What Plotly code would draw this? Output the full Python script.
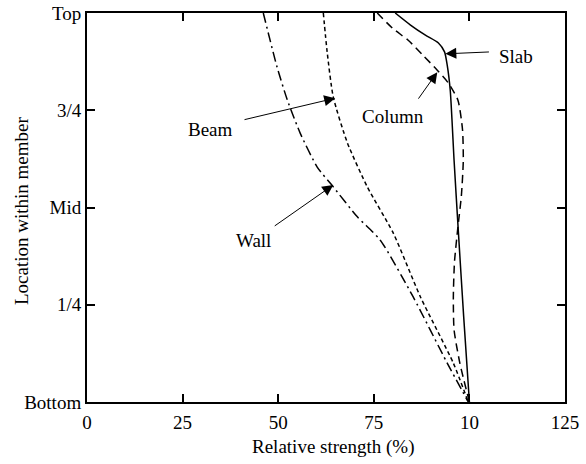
import plotly.graph_objects as go

# Data (relative strength %, location 0=Bottom .. 1=Top)
slab_x = [80.6, 84.6, 88.5, 91.9, 93.5, 94.2, 95.0, 96.0, 97.1, 98.5, 100.0]
slab_y = [1.0, 0.969, 0.943, 0.923, 0.90, 0.866, 0.80, 0.62, 0.44, 0.22, 0.0]

col_x = [75.9, 80.0, 84.0, 88.0, 91.6, 94.5, 97.0, 98.2, 98.4, 97.9, 97.0, 96.1, 95.8, 96.0, 97.5, 100.0]
col_y = [1.0, 0.96, 0.93, 0.89, 0.853, 0.82, 0.776, 0.70, 0.62, 0.53, 0.45, 0.36, 0.27, 0.185, 0.10, 0.0]

beam_x = [61.8, 62.8, 64.4, 68.1, 73.3, 80.1, 87.2, 95.8, 99.7]
beam_y = [1.0, 0.90, 0.784, 0.666, 0.553, 0.434, 0.27, 0.10, 0.0]

wall_x = [46.1, 49.7, 52.4, 55.8, 60.2, 64.4, 70.7, 76.7, 85.3, 94.2, 99.7]
wall_y = [1.0, 0.861, 0.776, 0.69, 0.604, 0.553, 0.476, 0.416, 0.27, 0.10, 0.0]

x_ticks = [0, 25, 50, 75, 100, 125]
x_tick_labels = ["0", "25", "50", "75", "10", "125"]
y_ticks = [0, 0.25, 0.5, 0.75, 1.0]
y_tick_labels = ["Bottom", "1/4", "Mid", "3/4", "Top"]

FONT = "Liberation Serif"
FS = 19

fig = go.Figure()
series = [
    (slab_x, slab_y, "solid", "Slab"),
    (col_x, col_y, "8px,5px", "Column"),
    (beam_x, beam_y, "4px,3px", "Beam"),
    (wall_x, wall_y, "10px,4px,2px,4px", "Wall"),
]
for xs, ys, dash, name in series:
    fig.add_trace(go.Scatter(x=xs, y=ys, mode="lines", name=name,
                             line=dict(color="black", width=1.5, dash=dash, shape="spline", smoothing=0.6),
                             showlegend=False))

# arrows: (tail_x, tail_y, head_x, head_y)
arrows = [
    (105.5, 0.90, 93.7, 0.895),
    (86.4, 0.776, 91.6, 0.848),
    (40.8, 0.725, 64.9, 0.781),
    (48.7, 0.45, 64.4, 0.558),
]
for tx, ty, hx, hy in arrows:
    fig.add_annotation(x=hx, y=hy, ax=tx, ay=ty, axref="x", ayref="y", xref="x", yref="y",
                       text="", showarrow=True, arrowhead=2, arrowsize=2.2, arrowwidth=1,
                       arrowcolor="black")

labels = [
    ("Slab", 107.3, 0.887, "left"),
    ("Column", 80.1, 0.733, "center"),
    ("Beam", 32.2, 0.70, "center"),
    ("Wall", 43.5, 0.416, "center"),
]
for t, x, y, xa in labels:
    fig.add_annotation(x=x, y=y, xref="x", yref="y", text=t, showarrow=False,
                       xanchor=xa, yanchor="middle", font=dict(family=FONT, size=FS, color="black"))

# axis titles
fig.add_annotation(x=0.515, y=-0.116, xref="paper", yref="paper", text="Relative strength (%)",
                   showarrow=False, xanchor="center", yanchor="middle",
                   font=dict(family=FONT, size=FS, color="black"))
fig.add_annotation(x=-0.138, y=0.491, xref="paper", yref="paper", text="Location within member",
                   showarrow=False, xanchor="center", yanchor="middle", textangle=-90,
                   font=dict(family=FONT, size=FS, color="black"))

axis_common = dict(showgrid=False, zeroline=False, showline=True, linecolor="black", linewidth=2,
                   mirror="ticks", ticks="inside", ticklen=8, tickwidth=2, tickcolor="black",
                   automargin=False,
                   tickfont=dict(family=FONT, size=FS, color="black"))

fig.update_xaxes(range=[0, 125], tickvals=x_ticks, ticktext=x_tick_labels, ticklabelstandoff=2,
                 **axis_common)
fig.update_yaxes(range=[0, 1], tickvals=y_ticks, ticktext=y_tick_labels, ticklabelstandoff=0,
                 **axis_common)

fig.update_layout(width=586, height=464, margin=dict(l=87, r=21, t=13, b=62),
                  plot_bgcolor="white", paper_bgcolor="white")

fig.write_html("out.html")
